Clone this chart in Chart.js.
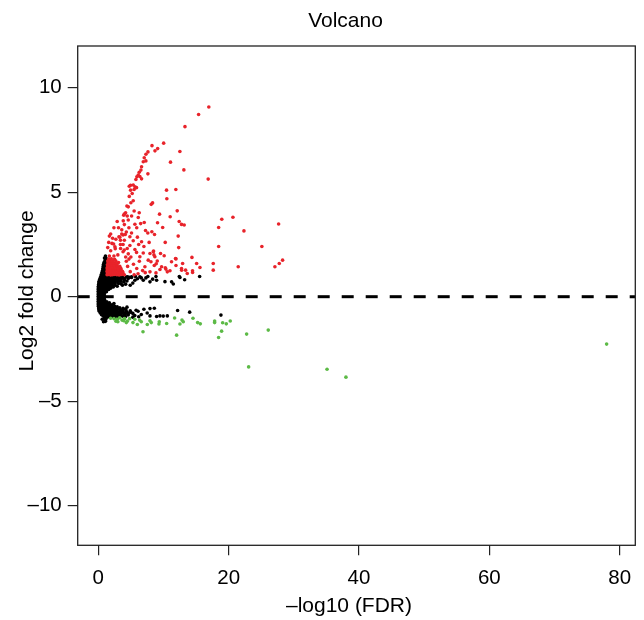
<!DOCTYPE html>
<html><head><meta charset="utf-8">
<script src="https://cdn.jsdelivr.net/npm/chart.js@4.4.1/dist/chart.umd.min.js"></script>
<style>html,body{margin:0;padding:0;background:#fff}canvas{display:block}</style>
</head><body>
<canvas id="c" width="644" height="620"></canvas>
<script>
const titleText = 'Volcano';
const xTitle = '\u2013log10 (FDR)';
const yTitle = 'Log2 fold change';
const xTicks = [0, 20, 40, 60, 80];
const xTickLabels = ['0', '20', '40', '60', '80'];
const yTicks = [-10, -5, 0, 5, 10];
const yTickLabels = ['\u201310', '\u20135', '0', '5', '10'];
const xRange = [-3.16, 82.4];
const yRange = [-11.9, 12.0];
const refLineY = 0;

// significant up-regulated (red)
const upPoints = [
[16.96,9.08],[15.39,8.72],[13.3,8.14],[10.03,7.35],[8.24,7.23],[9.11,7.09],[8.7,6.98],[7.62,6.93],[7.31,6.82],[12.52,6.95],
[7.05,6.65],[11.08,6.44],[6.9,6.46],[7.3,6.5],[6.64,6.22],[6.54,6.06],[13.13,6.07],[6.28,5.96],[7.61,5.88],[6.13,5.82],
[5.92,5.74],[6.38,5.75],[5.77,5.61],[6.64,5.64],[16.86,5.63],[4.75,5.29],[4.95,5.33],[5.36,5.35],[5.62,5.26],[5.5,5.13],
[5.87,5.22],[4.96,5.1],[5.2,4.94],[4.75,4.8],[10.47,5.1],[11.9,5.13],[10.52,4.69],[5.36,4.59],[5.0,4.5],[8.33,4.49],
[8.12,4.42],[4.39,4.34],
[12.11,4.11],[4.19,4.02],[3.98,3.95],[4.44,3.86],[5.11,3.86],[6.28,4.02],[6.13,3.79],[9.4,3.95],[11.03,3.83],[18.95,3.71],
[20.66,3.8],[12.41,3.6],[12.77,3.46],[13.18,3.43],[3.83,3.63],[4.6,3.67],[5.62,3.47],[7.05,3.55],[9.09,3.54],[9.88,3.31],
[18.47,3.31],[27.67,3.48],[22.35,3.15],[7.25,3.17],[8.22,3.11],[8.63,2.98],[12.26,2.9],[3.17,2.87],[4.14,2.98],[4.85,2.87],
[5.36,2.68],[6.64,2.63],[10.27,2.6],[18.47,2.4],[25.1,2.4],[12.34,2.35],[2.35,2.52],[2.55,2.39],[3.42,2.31],[3.98,2.23],
[4.44,2.31],[4.85,2.45],[5.87,2.12],[6.9,2.09],[8.48,2.19],[9.55,2.07],[10.11,1.96],[11.85,1.83],[8.68,1.91],[5.62,2.26],
[6.38,1.91],[7.66,1.75],[7.93,2.07],[8.44,2.15],[8.54,2.0],[9.05,1.71],[8.08,1.67],[8.59,1.49],[7.93,1.19],[8.85,1.14],
[9.46,1.3],[10.28,1.38],[10.59,1.19],[11.0,1.24],[11.92,1.81],[11.92,1.49],[12.94,1.59],[12.79,1.27],[13.4,1.27],[13.65,1.11],
[14.37,1.88],[14.47,1.16],[15.09,1.59],[15.6,1.4],[17.64,1.59],[17.64,1.27],[21.47,1.43],[27.1,1.43],[27.77,1.59],[28.28,1.75],
[10.37,1.32],[8.89,1.58],[14.46,1.24],[9.71,1.43],[7.15,1.43],[11.24,1.67],[12.77,1.35],
[3.6,3.2],[4.0,3.45],[4.3,3.1],[3.4,2.7],[3.8,2.95],[4.7,3.3],[5.1,3.05],[5.9,3.3],[6.0,2.85],[6.5,3.5],
[7.6,3.05],[5.5,4.1],[4.6,4.3],[7.8,2.6],[7.0,2.4],[6.2,2.5],
[1.6,2.6],[2.2,2.8],[1.9,2.2],[2.6,2.3],[3.0,2.0],[3.4,2.5],[2.4,1.95],[1.7,1.95],[3.8,2.15],[4.2,1.9],
[4.0,2.7],[3.3,2.85],[1.45,2.35],[2.1,2.55],[1.9,3.0],[2.4,3.3],[2.9,3.6],[3.6,3.0],[1.7,2.9],[2.7,2.75],
[3.1,3.3],[3.8,2.5],[4.6,2.05],[5.0,1.9],[5.4,1.55],[5.9,1.35],[6.3,1.7],[6.8,1.25],[4.5,1.45],[4.9,1.2],
[5.5,1.05],[6.1,1.1],[7.2,1.15],[4.3,1.7],[4.7,1.8],[3.9,3.9],
[1.35,1.05],[1.6,1.06],[1.9,1.04],[2.2,1.05],[2.5,1.07],[2.85,1.05],[3.2,1.04],[3.6,1.06],[4.0,1.05],
[1.4,1.13],[1.7,1.14],[2.0,1.12],[2.3,1.13],[2.65,1.15],[3.0,1.13],[3.4,1.12],[3.8,1.14],
[1.35,1.21],[1.65,1.22],[1.95,1.2],[2.25,1.21],[2.6,1.23],[2.95,1.21],[3.3,1.2],[3.7,1.22],
[1.4,1.29],[1.7,1.3],[2.0,1.28],[2.35,1.29],[2.7,1.31],[3.1,1.29],[3.5,1.28],
[1.35,1.37],[1.65,1.38],[1.95,1.36],[2.3,1.37],[2.65,1.39],[3.0,1.37],[3.45,1.36],
[1.45,1.45],[1.8,1.46],[2.1,1.44],[2.5,1.45],[2.9,1.47],[3.3,1.45],
[1.4,1.53],[1.7,1.54],[2.05,1.52],[2.45,1.53],[2.85,1.55],
[1.5,1.62],[1.85,1.63],[2.2,1.61],[2.6,1.62],[3.1,1.64],
[1.45,1.71],[1.8,1.72],[2.2,1.7],[2.7,1.71],
[1.6,1.8],[2.0,1.81],[2.5,1.79]
];

// significant down-regulated (green)
const downPoints = [
[2.41,-1.05],[2.92,-1.08],[3.28,-1.01],[3.64,-1.12],[4.04,-1.05],[4.45,-1.17],[4.81,-1.05],[5.32,-1.24],[5.99,-1.33],[6.34,-1.12],
[6.86,-1.68],[7.52,-1.33],[8.13,-1.24],[2.71,-1.17],[4.3,-1.24],[7.93,-1.15],[9.36,-1.2],[9.31,-1.31],[10.49,-1.28],[11.71,-1.02],
[12.84,-1.12],[13.04,-1.2],[12.53,-1.31],[14.53,-1.03],[15.24,-1.24],[15.65,-1.3],[17.85,-1.16],[17.85,-1.24],[19.08,-1.25],[19.64,-1.3],
[20.25,-1.16],[12.02,-1.84],[18.92,-1.65],[18.46,-1.95],[22.76,-1.79],[26.08,-1.6],[23.07,-3.36],[35.1,-3.47],[38.0,-3.85],[78.0,-2.27],
[1.9,-1.03],[3.0,-1.2],[5.6,-1.08],[6.6,-1.2],[3.9,-1.15]
];

// not significant (black)
const nsPoints = [
[1.1,1.95],[0.95,1.85],[1.2,1.84],[1.05,1.75],[1.25,1.74],[0.9,1.65],[1.15,1.66],[0.8,1.55],[1.05,1.56],[1.25,1.54],
[0.75,1.45],[1.0,1.46],[1.2,1.44],[0.7,1.35],[0.95,1.36],[1.2,1.34],[0.65,1.25],[0.9,1.26],[1.15,1.24],[0.55,1.15],
[0.8,1.16],[1.05,1.14],[1.25,1.15],[0.45,1.05],[0.7,1.06],[0.95,1.04],[1.2,1.05],
[0.4,0.97],[0.7,0.96],[1.0,0.98],[1.35,0.97],[1.7,0.96],[2.05,0.98],[2.4,0.97],[2.8,0.95],[3.2,0.97],[3.7,0.96],[4.3,0.94],
[0.3,0.9],[0.6,0.89],[0.9,0.91],[1.2,0.9],[1.5,0.88],[1.85,0.9],[2.2,0.91],[2.55,0.89],[2.9,0.9],[3.3,0.88],[3.8,0.9],[4.6,0.87],[5.1,0.92],
[0.2,0.82],[0.5,0.81],[0.8,0.83],[1.1,0.82],[1.4,0.8],[1.7,0.83],[2.0,0.82],[2.35,0.81],[2.7,0.83],[3.05,0.8],[3.5,0.82],[4.0,0.79],
[0.12,0.74],[0.4,0.73],[0.7,0.75],[1.0,0.74],[1.3,0.72],[1.6,0.75],[1.9,0.74],[2.25,0.73],[2.6,0.75],[3.0,0.72],[3.4,0.74],
[0.08,0.66],[0.35,0.65],[0.65,0.67],[0.95,0.66],[1.25,0.64],[1.55,0.67],[1.85,0.66],[2.2,0.64],[2.6,0.66],[3.1,0.63],
[0.05,0.58],[0.3,0.57],[0.6,0.59],[0.9,0.58],[1.2,0.56],[1.5,0.59],[1.8,0.58],[2.15,0.56],[2.6,0.55],
[0.02,0.5],[0.3,0.49],[0.6,0.51],[0.9,0.5],[1.2,0.48],[1.5,0.51],[1.85,0.49],[2.3,0.47],
[0,0.42],[0.3,0.41],[0.6,0.43],[0.9,0.42],[1.2,0.4],[1.55,0.43],[1.9,0.41],
[0,0.34],[0.3,0.33],[0.6,0.35],[0.9,0.34],[1.25,0.32],[1.6,0.35],
[0,0.26],[0.3,0.25],[0.6,0.27],[0.9,0.26],[1.25,0.24],
[0,0.18],[0.3,0.17],[0.6,0.19],[0.95,0.18],
[0,0.1],[0.3,0.09],[0.6,0.11],[0.9,0.1],
[0,0.02],[0.3,0.01],[0.6,0.03],[0.95,0.02],
[0,-0.06],[0.3,-0.07],[0.6,-0.05],[0.9,-0.06],
[0,-0.14],[0.3,-0.15],[0.6,-0.13],[0.95,-0.14],
[0,-0.22],[0.3,-0.23],[0.6,-0.21],[0.95,-0.22],[1.3,-0.24],
[0,-0.3],[0.3,-0.31],[0.6,-0.29],[0.95,-0.3],[1.3,-0.32],[1.7,-0.29],
[0,-0.38],[0.3,-0.39],[0.65,-0.37],[1.0,-0.38],[1.35,-0.4],[1.75,-0.37],[2.1,-0.39],
[0.02,-0.46],[0.3,-0.47],[0.65,-0.45],[1.0,-0.46],[1.35,-0.48],[1.7,-0.45],[2.1,-0.47],[2.5,-0.46],[2.9,-0.48],
[0.05,-0.54],[0.35,-0.55],[0.7,-0.53],[1.05,-0.54],[1.4,-0.56],[1.75,-0.53],[2.1,-0.55],[2.5,-0.54],[2.9,-0.56],[3.3,-0.53],[3.8,-0.55],
[0.08,-0.62],[0.4,-0.63],[0.75,-0.61],[1.1,-0.62],[1.45,-0.64],[1.8,-0.61],[2.15,-0.63],[2.5,-0.62],[2.9,-0.64],[3.3,-0.61],[3.7,-0.63],[4.2,-0.6],
[0.15,-0.7],[0.5,-0.71],[0.85,-0.69],[1.2,-0.7],[1.55,-0.72],[1.9,-0.69],[2.25,-0.71],[2.6,-0.7],[3.0,-0.72],[3.4,-0.69],[3.8,-0.71],[4.3,-0.7],[4.9,-0.68],
[0.3,-0.78],[0.65,-0.79],[1.0,-0.77],[1.35,-0.78],[1.7,-0.8],[2.05,-0.77],[2.4,-0.79],[2.8,-0.78],[3.2,-0.8],[3.6,-0.77],[4.1,-0.79],[4.6,-0.78],[5.3,-0.8],
[0.5,-0.86],[0.85,-0.87],[1.2,-0.85],[1.55,-0.86],[1.9,-0.88],[2.3,-0.85],[2.7,-0.87],[3.1,-0.86],[3.5,-0.88],[4.0,-0.85],[4.6,-0.87],
[0.75,-0.93],[1.1,-0.94],[1.5,-0.92],[1.9,-0.93],[2.3,-0.95],[2.7,-0.92],[3.2,-0.94],[3.7,-0.93],
[1.0,-0.99],[1.4,-0.98],[1.9,-0.99],[2.5,-0.98],[3.1,-0.99],
[0.6,-1.08],[0.9,-1.07],[1.15,-1.09],[0.8,-1.2],[1.1,-1.18],
[4.0,0.86],[4.4,0.75],[4.8,0.93],[5.11,0.95],[5.62,0.79],[5.3,0.65],[6.38,0.95],[6.9,0.79],[6.0,0.86],[7.3,0.9],
[7.93,0.71],[8.34,0.84],[8.85,0.97],[8.95,0.79],[10.23,0.72],[11.25,0.71],[11.51,0.61],[12.43,0.97],[12.53,0.92],[13.25,0.81],
[15.55,0.97],[4.2,0.6],[3.7,0.55],[4.9,0.55],[3.9,0.7],[4.5,0.95],[5.7,0.97],[6.6,0.9],[3.5,0.62],[2.9,0.5],[7.6,0.97],
[4.5,-0.82],[5.0,-0.75],[5.6,-0.9],[6.1,-0.7],[6.6,-0.85],[7.0,-0.6],[7.5,-0.78],[7.93,-0.57],[8.6,-0.55],[7.93,-0.92],
[8.95,-0.95],[9.46,-0.92],[9.97,-0.93],[10.59,-0.92],[12.17,-0.66],[14.02,-0.74],[18.82,-0.88],[5.3,-0.98],[6.2,-0.96],[4.2,-0.95],
[3.9,-0.6],[4.4,-0.5],[2.4,-0.33],[5.8,-0.65]
];

const FONT = '"Liberation Sans", Arial, Helvetica, sans-serif';
const toXY = arr => arr.map(p => ({x: p[0], y: p[1]}));

const textPlugin = {
  id: 'rtext',
  afterDraw(chart) {
    const ctx = chart.ctx, a = chart.chartArea;
    ctx.save();
    ctx.strokeStyle = '#222';
    ctx.lineWidth = 1.3;
    ctx.strokeRect(a.left, a.top, a.right - a.left, a.bottom - a.top);
    ctx.fillStyle = '#000';
    ctx.textAlign = 'center';
    ctx.textBaseline = 'middle';
    ctx.font = '21px ' + FONT;
    ctx.fillText(titleText, 345.5, 21);
    ctx.fillText(xTitle, 349, 606);
    ctx.translate(27, 291);
    ctx.rotate(-Math.PI / 2);
    ctx.fillText(yTitle, 0, 0);
    ctx.restore();
  }
};

new Chart(document.getElementById('c'), {
  type: 'scatter',
  data: {
    datasets: [
      { label: 'ref', type: 'line', data: [{x: xRange[0], y: refLineY}, {x: xRange[1], y: refLineY}],
        borderColor: '#000', borderWidth: 3, borderDash: [12, 12], pointRadius: 0, fill: false },
      { label: 'up', data: toXY(upPoints), backgroundColor: '#E8232A', borderWidth: 0, pointRadius: 1.8 },
      { label: 'down', data: toXY(downPoints), backgroundColor: '#5CBA46', borderWidth: 0, pointRadius: 1.8 },
      { label: 'ns', data: toXY(nsPoints), backgroundColor: '#000', borderWidth: 0, pointRadius: 1.8 }
    ]
  },
  options: {
    responsive: false,
    animation: false,
    devicePixelRatio: 1,
    layout: { padding: { left: 0, top: 46, right: 8.7, bottom: 0 } },
    plugins: { legend: { display: false }, tooltip: { enabled: false }, title: { display: false } },
    scales: {
      x: {
        type: 'linear', min: xRange[0], max: xRange[1],
        afterFit: s => { s.height = 74.7; },
        afterBuildTicks: s => { s.ticks = xTicks.map(v => ({value: v})); },
        grid: { drawOnChartArea: false, drawTicks: true, tickLength: 10, color: '#222', lineWidth: 1.2 },
        border: { display: false },
        ticks: { color: '#000', font: { family: FONT, size: 20.5 }, padding: 11, maxRotation: 0,
          callback: (v) => xTickLabels[xTicks.indexOf(v)] }
      },
      y: {
        type: 'linear', min: yRange[0], max: yRange[1],
        afterFit: s => { s.width = 77.7; },
        afterBuildTicks: s => { s.ticks = yTicks.map(v => ({value: v})); },
        grid: { drawOnChartArea: false, drawTicks: true, tickLength: 10, color: '#222', lineWidth: 1.2 },
        border: { display: false },
        ticks: { color: '#000', font: { family: FONT, size: 20.5 }, padding: 6,
          callback: (v) => yTickLabels[yTicks.indexOf(v)] }
      }
    }
  },
  plugins: [textPlugin]
});
</script>
</body></html>
